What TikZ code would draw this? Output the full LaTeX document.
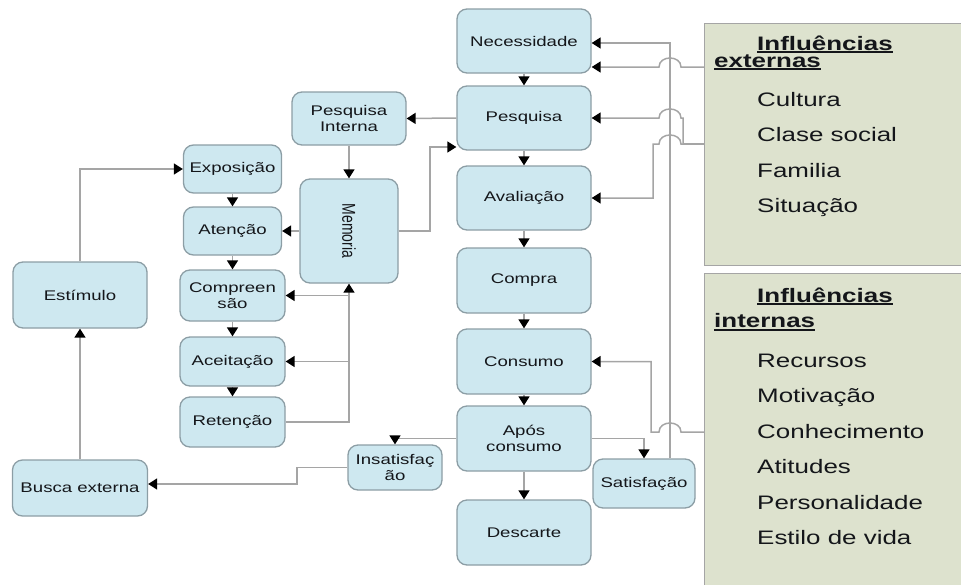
\documentclass[tikz,border=0pt]{standalone}
\usepackage{graphicx}
\usepackage{fontspec}
\setmainfont{Liberation Sans}[FakeStretch=1.33]
\newfontfamily\plainsans{Liberation Sans}
\usetikzlibrary{arrows.meta}

\definecolor{boxfill}{RGB}{206,232,240}
\definecolor{boxline}{RGB}{140,158,165}
\definecolor{wire}{RGB}{165,165,165}
\definecolor{panelfill}{RGB}{221,226,206}
\definecolor{panelline}{RGB}{165,165,165}
\definecolor{ink}{RGB}{20,22,26}

% underlined panel heading
\newcommand{\hdul}[1]{\setbox0\hbox{#1}\rlap{\rule[-3pt]{\wd0}{1.6pt}}\box0}

\tikzset{
  stage/.style={draw=boxline, fill=boxfill, line width=1.3pt, rounded corners=10pt,
    align=center, text=ink, font=\fontsize{14}{16}\selectfont, inner sep=0pt},
  wire/.style={draw=wire, line width=1.5pt},
  arr/.style={wire, -{Triangle[width=11pt,length=9pt,color=black]}},
  panel/.style={draw=panelline, fill=panelfill, line width=1.3pt, anchor=north west, inner sep=0pt},
  ptext/.style={anchor=base west, inner sep=0pt, text=ink, font=\fontsize{19.5}{20}\selectfont},
  phead/.style={ptext, font=\fontsize{19.5}{20}\selectfont\bfseries},
}

\begin{document}
\begin{tikzpicture}[x=1pt,y=-1pt]
\useasboundingbox (0,0) rectangle (961,584);

% side panels
\node[panel, minimum width=270pt, minimum height=242pt] (extp) at (704,23) {};
\node[panel, minimum width=270pt, minimum height=320pt] (intp) at (704,273) {};

\node[phead] (h1) at (757,50) {\hdul{Influências}};
\node[phead] (h1b) at (714,67) {\hdul{externas}};
\node[ptext] (e1) at (757,106) {Cultura};
\node[ptext] (e2) at (757,141.5) {Clase social};
\node[ptext] (e3) at (757,177) {Familia};
\node[ptext] (e4) at (757,212.5) {Situação};

\node[phead] (h2) at (757,302) {\hdul{Influências}};
\node[phead] (h2b) at (714,327.5) {\hdul{internas}};
\node[ptext] (i1) at (757,367) {Recursos};
\node[ptext] (i2) at (757,402.5) {Motivação};
\node[ptext] (i3) at (757,438) {Conhecimento};
\node[ptext] (i4) at (757,473.5) {Atitudes};
\node[ptext] (i5) at (757,509) {Personalidade};
\node[ptext] (i6) at (757,544.5) {Estilo de vida};

% decision process column
\node[stage, minimum width=134pt, minimum height=64pt] (nec)  at (524,41)    {Necessidade};
\node[stage, minimum width=134pt, minimum height=64pt] (pes)  at (524,118)   {Pesquisa};
\node[stage, minimum width=134pt, minimum height=64pt] (ava)  at (524,198)   {Avaliação};
\node[stage, minimum width=134pt, minimum height=65pt] (com)  at (524,280.5) {Compra};
\node[stage, minimum width=134pt, minimum height=65pt] (cons) at (524,361.5) {Consumo};
\node[stage, minimum width=134pt, minimum height=65pt] (apos) at (524,438.5) {Após\\consumo};
\node[stage, minimum width=134pt, minimum height=65pt] (desc) at (524,532.5) {Descarte};
\node[stage, minimum width=102pt, minimum height=49pt] (sat)  at (644,483.5) {Satisfação};
\node[stage, minimum width=94pt,  minimum height=45pt] (insat) at (395,467.5) {Insatisfaç\\ão};

% memory and information processing
\node[stage, minimum width=114pt, minimum height=53pt] (pint) at (349,118.5) {Pesquisa\\Interna};
\node[stage, minimum width=98pt, minimum height=104pt] (mem) at (349,231)
  {\scalebox{1.33}[1]{\rotatebox{-90}{\plainsans Memoria}}};
\node[stage, minimum width=98pt,  minimum height=48pt] (expo)  at (232.5,169)   {Exposição};
\node[stage, minimum width=98pt,  minimum height=48pt] (aten)  at (232.5,231)   {Atenção};
\node[stage, minimum width=105pt, minimum height=51pt] (compr) at (232.5,295.5) {Compreen\\são};
\node[stage, minimum width=105pt, minimum height=49pt] (acei)  at (232.5,361.5) {Aceitação};
\node[stage, minimum width=105pt, minimum height=50pt] (ret)   at (232.5,422)   {Retenção};

% external search loop
\node[stage, minimum width=134pt, minimum height=66pt] (est)   at (80,295) {Estímulo};
\node[stage, minimum width=135pt, minimum height=56pt] (busca) at (80,488) {Busca externa};

% main column arrows
\draw[arr] (nec.south) -- (pes.north);
\draw[arr] (pes.south) -- (ava.north);
\draw[arr] (ava.south) -- (com.north);
\draw[arr] (com.south) -- (cons.north);
\draw[arr] (cons.south) -- (apos.north);
\draw[arr] (apos.south) -- (desc.north);
\draw[arr] (apos.west) -| (insat.north);
\draw[arr] (apos.east) -| (sat.north);

% internal search and memory
\draw[arr] (pes.west) -- (pint.east);
\draw[arr] (pint.south) -- (mem.north);
\coordinate (mp) at (430,147);
\draw[arr] (mem.east) -| (mp) -- (mp -| pes.west);
\draw[arr] (mem.west) -- (aten.east);
\draw[arr] (ret.east) -| (mem.south);
\draw[arr] (mem.south |- compr.east) -- (compr.east);
\draw[arr] (mem.south |- acei.east) -- (acei.east);
\draw[arr] (expo.south) -- (aten.north);
\draw[arr] (aten.south) -- (compr.north);
\draw[arr] (compr.south) -- (acei.north);
\draw[arr] (acei.south) -- (ret.north);

% stimulus loop
\draw[arr] (busca.north) -- (est.south);
\draw[arr] (est.north) |- (expo.west);
\coordinate (ib) at (297,484);
\draw[arr] (insat.west) -| (ib) -- (ib -| busca.east);

% feedback from satisfaction
\coordinate (sn) at (670,43);
\draw[arr] (sat.north -| sn) -- (sn) -- (sn -| nec.east);

% influences, hopping over the feedback line
\coordinate (x1) at (704,67);
\draw[arr] (x1) -- (681,67) .. controls (681,55) and (659,55) .. (659,67) -- (x1 -| nec.east);
\coordinate (ea) at (683,144);
\draw[wire] (extp.west |- ea) -- (ea);
\draw[arr] (ea) -- (683,118) -- (681,118) .. controls (681,106) and (659,106) .. (659,118) -- (pes.east);
\draw[arr] (ea) -- (681,144) .. controls (681,132) and (659,132) .. (659,144) -- (653,144) -- (653,198) -- (ava.east);
\coordinate (x2) at (704,432);
\draw[arr] (x2) -- (681,432) .. controls (681,420) and (659,420) .. (659,432) -- (651,432) -- (651,361.5) -- (cons.east);
\end{tikzpicture}
\end{document}
